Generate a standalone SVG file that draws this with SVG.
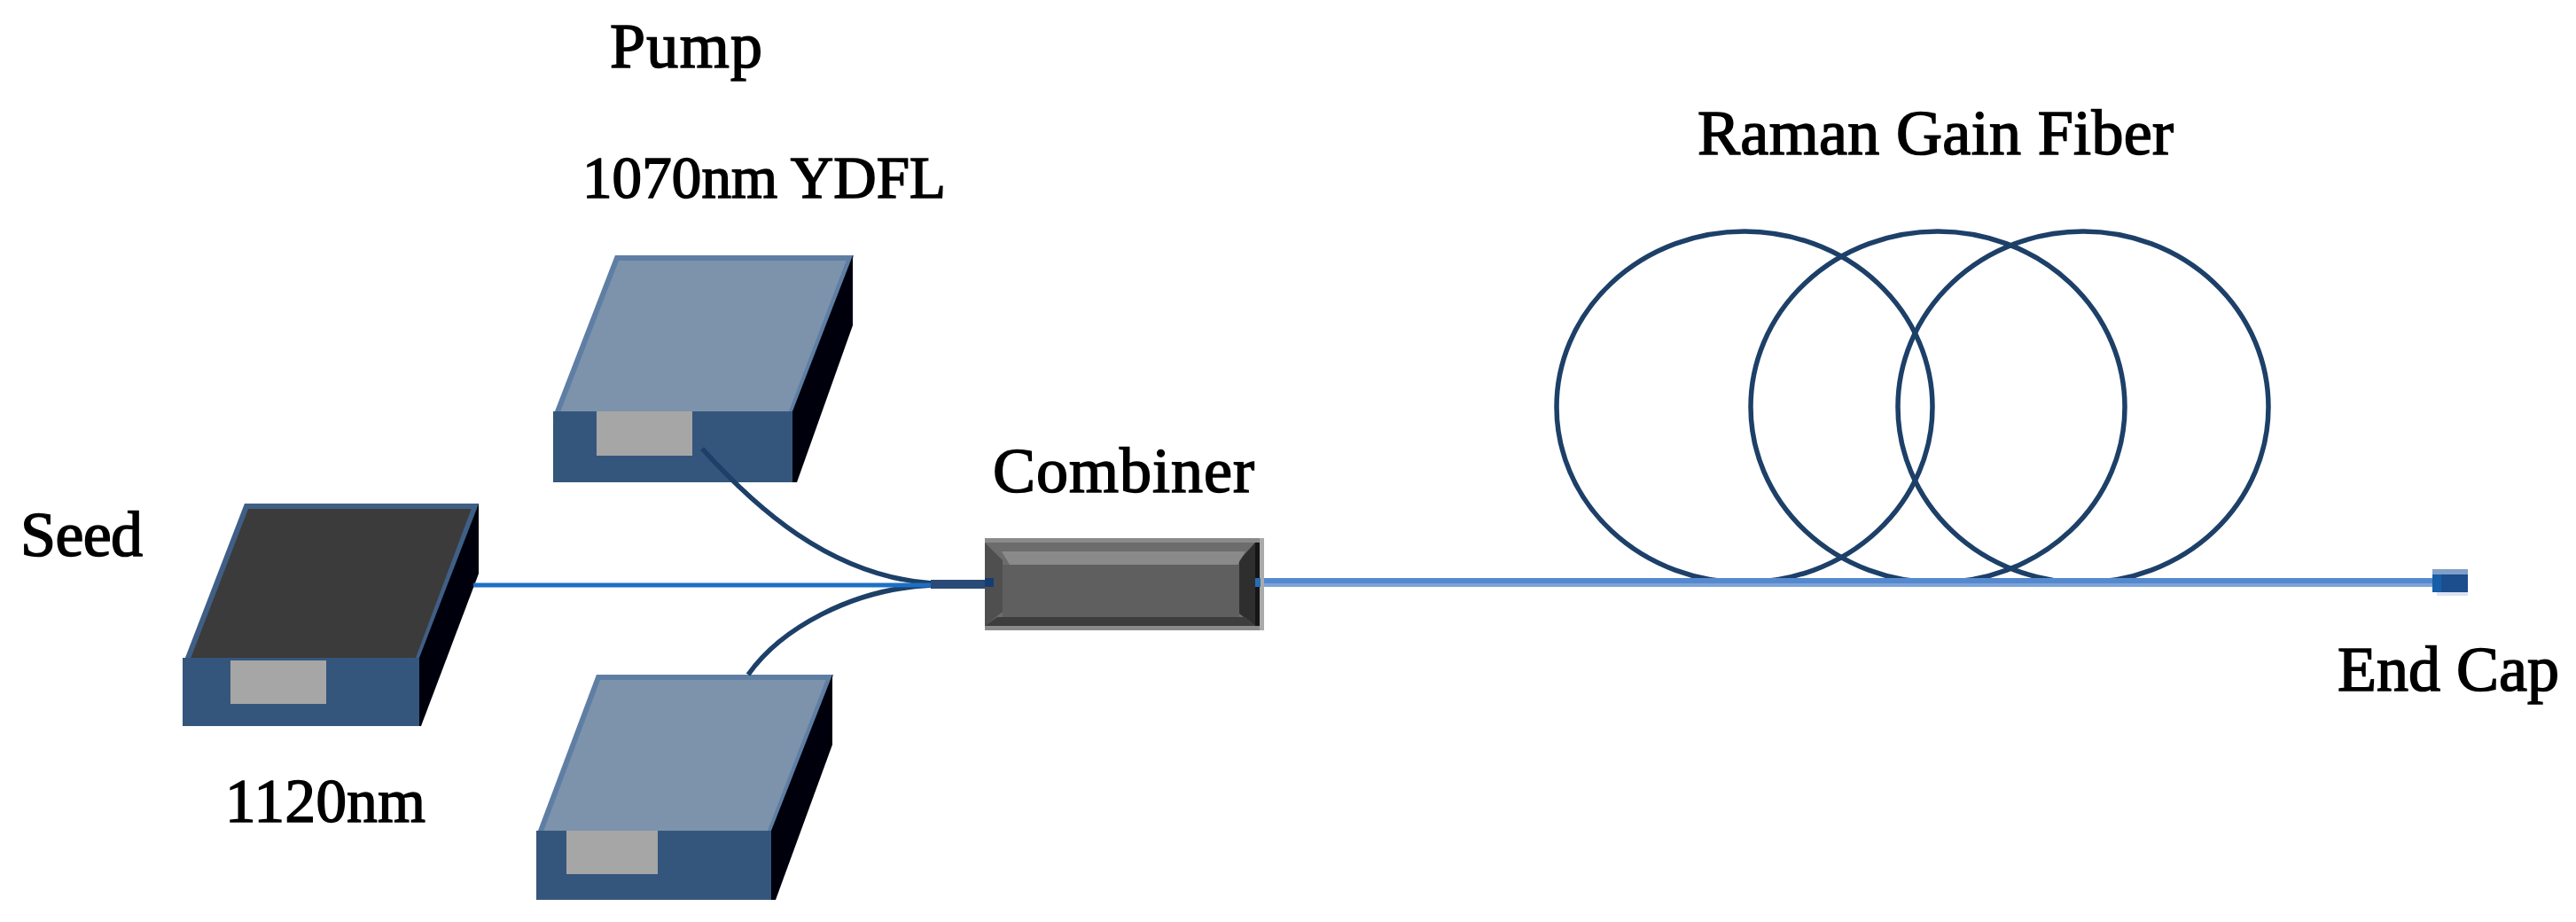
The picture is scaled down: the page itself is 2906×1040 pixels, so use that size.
<svg xmlns="http://www.w3.org/2000/svg" width="2906" height="1040" viewBox="0 0 2906 1040">
<style>
.lbl{font-family:"Liberation Serif","Times New Roman",serif;font-size:72px;fill:#000;stroke:#000;stroke-width:1.6px}
.top{fill:#7c93ab;stroke:#5f7ea4;stroke-width:6px;stroke-linejoin:miter}
.dark{fill:#3a3a3a;stroke:#3f5f86;stroke-width:6px}
.front{fill:#34567c}
.side{fill:#02050c}
.port{fill:#a6a6a6}
.fiber{fill:none;stroke:#1e3f68;stroke-width:5.5px}
.coil{fill:none;stroke:#1e3f68;stroke-width:5.5px}
</style>
<defs><filter id="soft" x="-2%" y="-2%" width="104%" height="104%"><feGaussianBlur stdDeviation="0.7"/></filter></defs>
<rect width="2906" height="1040" fill="#fff"/>
<g filter="url(#soft)">
<g id="labels">
<text class="lbl" x="688" y="76" textLength="172">Pump</text>
<text class="lbl" x="657" y="223" style="font-size:67px" textLength="410">1070nm YDFL</text>
<text class="lbl" x="23" y="627" textLength="138">Seed</text>
<text class="lbl" x="254" y="927" style="font-size:69px" textLength="226">1120nm</text>
<text class="lbl" x="1120" y="555" textLength="295">Combiner</text>
<text class="lbl" x="1915" y="174" textLength="537">Raman Gain Fiber</text>
<text class="lbl" x="2637" y="779" textLength="250">End Cap</text>
</g>
<g id="pump-top">
<polygon class="top" points="696,291 959,291 892,467 628,467"/>
<polygon class="side" points="962,288 962,367 899,544 894,544 894,464"/>
<rect class="front" x="624" y="464" width="270" height="80"/>
<rect class="port" x="673" y="464" width="108" height="50"/>
</g>
<g id="pump-bottom">
<polygon class="top" points="675,764 936,764 868,940 609,940"/>
<polygon class="side" points="939,761 939,840 875,1015 870,1015 870,937"/>
<rect class="front" x="605" y="937" width="265" height="78"/>
<rect class="port" x="639" y="937" width="103" height="49"/>
</g>
<g id="seed">
<polygon class="dark" points="278,571 536,571 471,745 211,745"/>
<polygon class="side" points="540,568 540,647 475,819 473,819 473,742"/>
<rect class="front" x="206" y="742" width="267" height="77"/>
<rect class="port" x="260" y="745" width="108" height="49"/>
</g>
<g id="coil">
<ellipse class="coil" cx="1968" cy="459" rx="212" ry="198"/>
<ellipse class="coil" cx="2186" cy="459" rx="211" ry="198"/>
<ellipse class="coil" cx="2350" cy="459" rx="209" ry="198"/>
</g>
<g id="connectors">
<path class="fiber" d="M792 506 C850 570 935 650 1052 658"/>
<path class="fiber" d="M844 761 C880 710 960 664 1052 660"/>
<rect x="534" y="657.5" width="519" height="5" fill="#1f6fc4"/>
<rect x="1050" y="654" width="71" height="10" fill="#2b4b78"/>
<rect x="1416" y="652" width="1330" height="6" fill="#5489cf"/>
<rect x="1416" y="658" width="1330" height="4" fill="#7ba3d8"/>
</g>
<g id="combiner">
<rect x="1111" y="607" width="315" height="104" fill="#8a8a8a"/>
<rect x="1111" y="612" width="305" height="94" fill="#6c6c6c"/>
<polygon points="1111,612 1131,632 1131,690 1111,706" fill="#4f4f4f"/>
<polygon points="1416,612 1398,632 1398,692 1416,706" fill="#2f2f2f"/>
<rect x="1416" y="612" width="5" height="94" fill="#161616"/>
<rect x="1421" y="607" width="5" height="104" fill="#aaa"/>
<polygon points="1125,696 1405,696 1416,706 1111,706" fill="#3e3e3e"/>
<rect x="1131" y="637" width="267" height="59" fill="#5f5f5f"/>
<polygon points="1130,622 1405,622 1396,637 1139,637" fill="#8a8a8a"/>
<rect x="1111" y="652" width="10" height="10" fill="#123e72"/>
<rect x="1416" y="652" width="6" height="10" fill="#2a6cb8"/>
</g>
<g id="end-cap">
<rect x="2749" y="642" width="35" height="30" fill="#dbe3f2"/>
<rect x="2744" y="642" width="40" height="26" fill="#7f9fc9"/>
<rect x="2744" y="648" width="40" height="20" fill="#1b4d8c"/>
<rect x="2744" y="648" width="10" height="20" fill="#135ea8"/>
</g>
</g>
</svg>
